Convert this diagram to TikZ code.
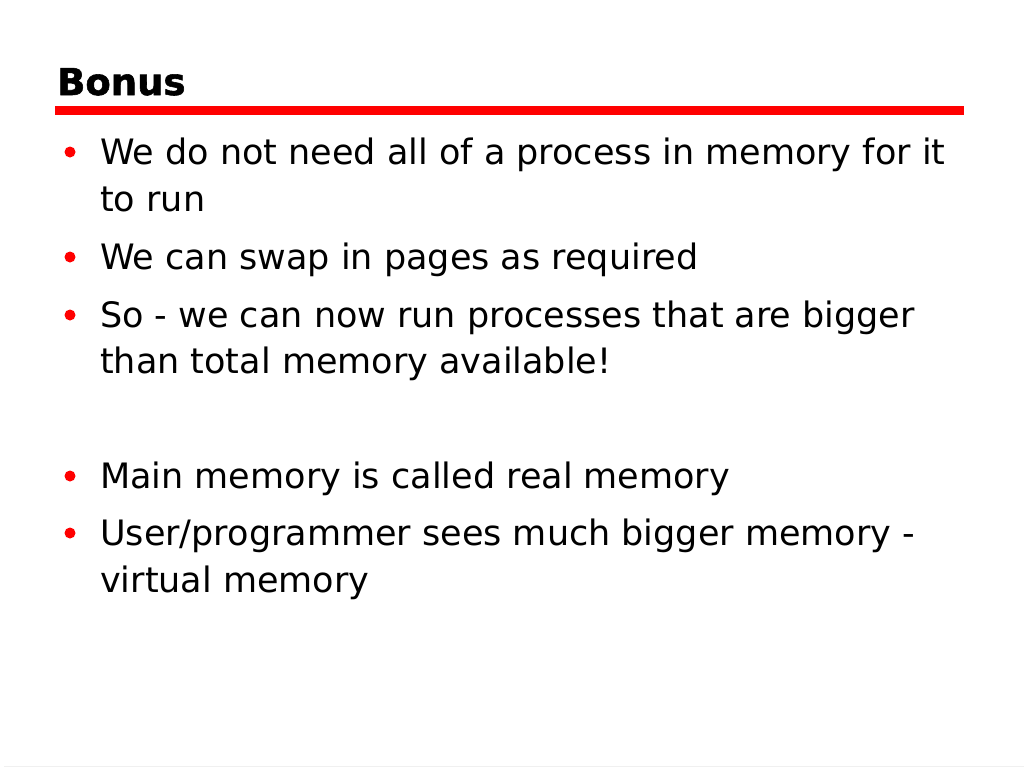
\documentclass[tikz,border=0pt]{standalone}
\usepackage{fontspec}
\setmainfont{DejaVu Sans}
\newfontfamily\titlefont[FakeBold=1.5]{DejaVu Sans Bold}
\definecolor{slidered}{RGB}{255,0,0}
\begin{document}
\begin{tikzpicture}[x=1pt,y=-1pt,
  bodytext/.style={anchor=base west,inner sep=0pt,font=\fontsize{35}{42}\selectfont},
  titletext/.style={anchor=base west,inner sep=0pt,font=\fontsize{37}{44}\selectfont\titlefont},
  bulletdot/.style={circle,fill=slidered,inner sep=0pt,minimum size=11pt}]
\useasboundingbox[fill=white] (0,0) rectangle (1024,768);
\node[titletext] (title) at (57,95) {Bonus};
\fill[slidered] (55,106) rectangle (964,115);
\draw[gray!12,line width=1pt] (4,766) -- (1024,766);
\node[bulletdot] (b1) at (70,152) {};
\node[bodytext] (t1a) at (100,164) {We do not need all of a process in memory for it};
\node[bodytext] (t1b) at (100,211) {to run};
\node[bulletdot] (b2) at (70,257) {};
\node[bodytext] (t2) at (100,269) {We can swap in pages as required};
\node[bulletdot] (b3) at (70,315) {};
\node[bodytext] (t3a) at (100,327) {So - we can now run processes that are bigger};
\node[bodytext] (t3b) at (100,373) {than total memory available!};
\node[bulletdot] (b4) at (70,476) {};
\node[bodytext] (t4) at (100,488) {Main memory is called real memory};
\node[bulletdot] (b5) at (70,533) {};
\node[bodytext] (t5a) at (100,545) {User/programmer sees much bigger memory -};
\node[bodytext] (t5b) at (100,592) {virtual memory};
\end{tikzpicture}
\end{document}
